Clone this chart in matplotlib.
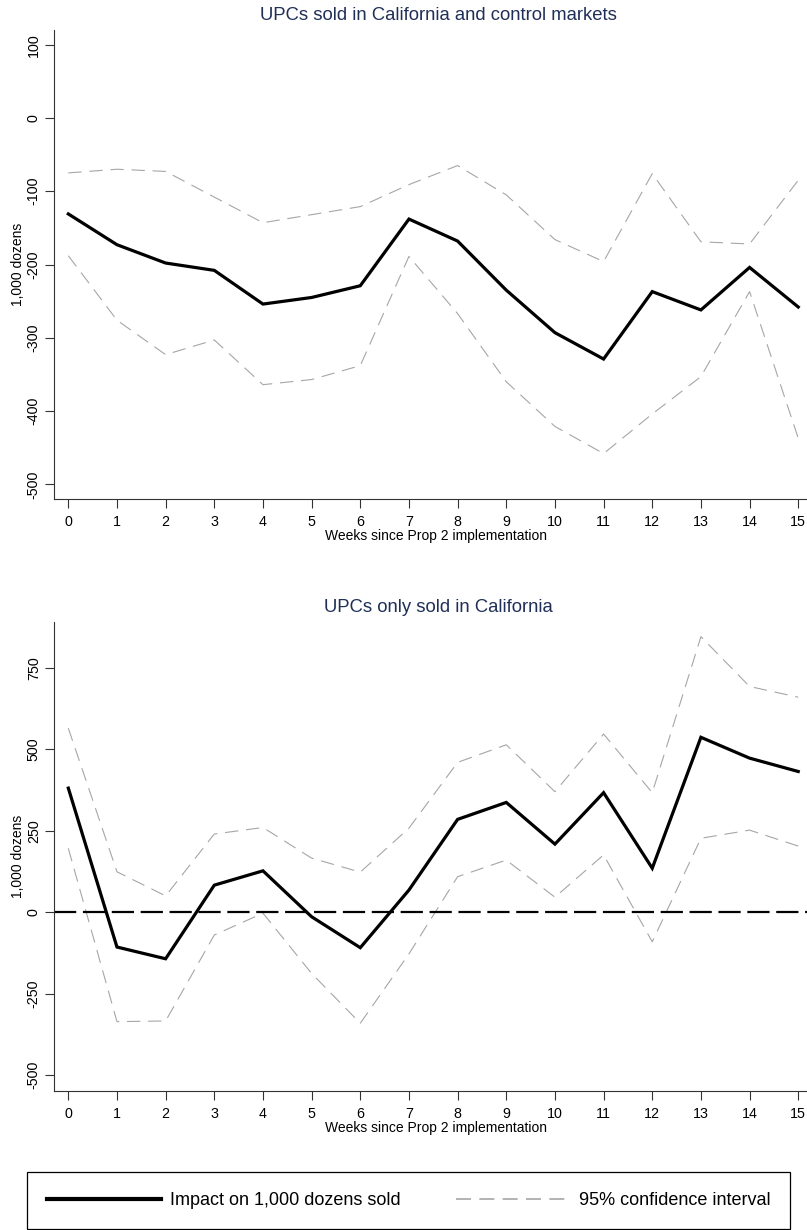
import matplotlib
matplotlib.use('Agg')
import matplotlib.pyplot as plt

weeks = list(range(16))

# panel 1: UPCs sold in California and control markets
top_est = [-131, -173, -198, -208, -254, -245, -229, -138, -168, -235, -293, -329, -237, -262, -204, -258]
top_hi = [-75, -70, -73, -108, -143, -132, -121, -91, -65, -105, -166, -196, -76, -169, -172, -85]
top_lo = [-188, -276, -323, -303, -364, -357, -338, -189, -267, -360, -421, -458, -404, -353, -237, -437]

# panel 2: UPCs only sold in California
bot_est = [381, -107, -143, 83, 127, -14, -109, 68, 285, 337, 209, 367, 135, 537, 473, 432]
bot_hi = [565, 124, 50, 240, 260, 166, 123, 258, 460, 514, 370, 547, 367, 846, 693, 660]
bot_lo = [196, -336, -334, -70, -3, -188, -341, -128, 109, 160, 46, 176, -91, 227, 252, 203]

top_yticks = [100, 0, -100, -200, -300, -400, -500]
bot_yticks = [750, 500, 250, 0, -250, -500]

titles = ['UPCs sold in California and control markets', 'UPCs only sold in California']
xlabel = 'Weeks since Prop 2 implementation'
ylabel = '1,000 dozens'

plt.rcParams['font.family'] = ['Liberation Sans', 'DejaVu Sans']
plt.rcParams['font.size'] = 10
plt.rcParams['axes.unicode_minus'] = False

W, H = 807, 1230
fig = plt.figure(figsize=(W / 100, H / 100), dpi=100)

title_color = '#1f2f57'
axis_color = '#333333'
ci_color = '#a6a6a6'


def panel(rect, est, hi, lo, yticks, ylim, title, zero=False):
	ax = fig.add_axes(rect)
	ax.plot(weeks, hi, color=ci_color, lw=0.8, linestyle=(0, (12, 7)))
	ax.plot(weeks, lo, color=ci_color, lw=0.8, linestyle=(0, (12, 7)))
	if zero:
		ax.axhline(0, color='black', lw=1.6, linestyle=(0, (10, 3)))
	ax.plot(weeks, est, color='black', lw=2.3, solid_joinstyle='miter')
	ax.set_xlim(-0.294, 15.18)
	ax.set_ylim(*ylim)
	ax.set_xticks(weeks)
	ax.set_yticks(yticks)
	for s in ['top', 'right']:
		ax.spines[s].set_visible(False)
	for s in ['left', 'bottom']:
		ax.spines[s].set_color(axis_color)
		ax.spines[s].set_linewidth(0.8)
	ax.tick_params(axis='both', length=6.5, width=0.8, color=axis_color, labelsize=10.3)
	ax.tick_params(axis='x', pad=5)
	ax.tick_params(axis='y', pad=3)
	for lab in ax.get_yticklabels():
		lab.set_rotation(90)
		lab.set_va('center')
	ax.set_xlabel(xlabel, fontsize=10, labelpad=0)
	ax.xaxis.label.set_x(0.507)
	ax.set_ylabel(ylabel, fontsize=10, labelpad=1.5)
	ax.set_title(title, fontsize=13.3, color=title_color, x=0.51, pad=7)
	return ax


ax1 = panel([54 / W, 1 - 499 / H, 753 / W, 469 / H], top_est, top_hi, top_lo,
            top_yticks, (-520, 120), titles[0])
ax2 = panel([54 / W, 1 - 1091 / H, 753 / W, 469 / H], bot_est, bot_hi, bot_lo,
            bot_yticks, (-549, 891), titles[1], zero=True)

h1, = ax1.plot([], [], color='black', lw=3)
h2, = ax1.plot([], [], color=ci_color, lw=1.2, linestyle=(0, (9, 5)))
leg = fig.legend([h1, h2], ['Impact on 1,000 dozens sold', '95% confidence interval'],
                 loc='lower left', bbox_to_anchor=(27 / W, 1 / H, 763 / W, 56 / H),
                 mode='expand', ncol=2, fontsize=13, handlelength=6.3, handletextpad=0.5,
                 borderpad=1.1, borderaxespad=0, fancybox=False, framealpha=1)
leg.get_frame().set_edgecolor('black')
leg.get_frame().set_linewidth(0.9)

fig.savefig('out.png', dpi=100)
